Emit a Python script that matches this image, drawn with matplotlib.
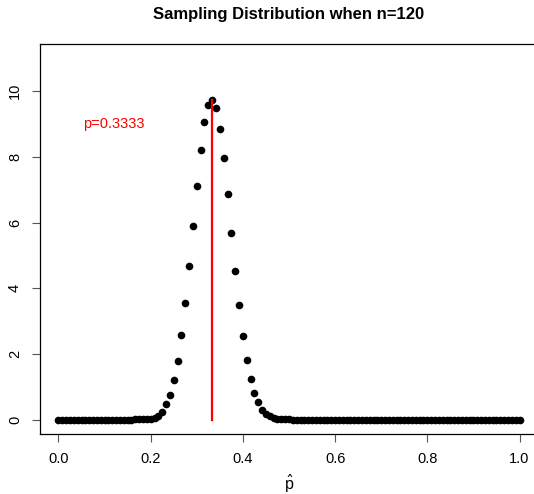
import numpy as np
import matplotlib.pyplot as plt

plt.rcParams['font.family'] = ['Liberation Sans', 'DejaVu Sans']

# data: number of successes k out of n=120, scaled density at each p-hat = k/n
n = 120
p = 0.3333
k = np.arange(0, 121)
density = [0.0] * 19 + [
    0.001, 0.002, 0.004, 0.008, 0.016, 0.03, 0.06, 0.12, 0.24, 0.46,   # k=19..28
    0.76, 1.19, 1.79, 2.58, 3.56, 4.68, 5.90, 7.11, 8.21, 9.06,        # k=29..38
    9.57, 9.73, 9.48, 8.84, 7.96, 6.87, 5.68, 4.53, 3.50, 2.55,        # k=39..48
    1.82, 1.25, 0.82, 0.52, 0.30, 0.18, 0.10, 0.05, 0.025, 0.012,     # k=49..58
    0.005, 0.002, 0.001,                                               # k=59..61
] + [0.0] * 59
phat = k / n
peak = max(density)

x_ticks = [0.0, 0.2, 0.4, 0.6, 0.8, 1.0]
y_ticks = [0, 2, 4, 6, 8, 10]

fig = plt.figure(figsize=(5.34, 4.94), dpi=100)
# box runs past the right edge of the image, as in the original
ax = fig.add_axes([40 / 534, 60 / 494, 498 / 534, 390 / 494])

ax.plot(phat, density, 'o', color='black', markersize=5.5, markeredgewidth=0)
ax.plot([1 / 3, 1 / 3], [0, peak], color='red', linewidth=1.6)
ax.text(0.12, 9.0, 'p=0.3333', color='red', fontsize=10.5, ha='center', va='center')

ax.set_xlim(-0.04, 1.04)
ax.set_ylim(-0.44, 11.44)
ax.set_xticks(x_ticks)
ax.set_xticklabels(['%.1f' % t for t in x_ticks])
ax.set_yticks(y_ticks)
ax.set_yticklabels([str(t) for t in y_ticks], rotation=90, va='center')
ax.tick_params(direction='out', length=6, width=0.8, color='#555555', labelsize=10.5, pad=7)

for s in ax.spines.values():
    s.set_linewidth(0.9)
ax.spines['right'].set_visible(False)

ax.set_xlabel(r'$\hat{\mathregular{p}}$', fontsize=11.5, labelpad=5)
ax.set_title('Sampling Distribution when n=120', fontsize=12, fontweight='bold', pad=18)

fig.savefig('out.png', dpi=100)
